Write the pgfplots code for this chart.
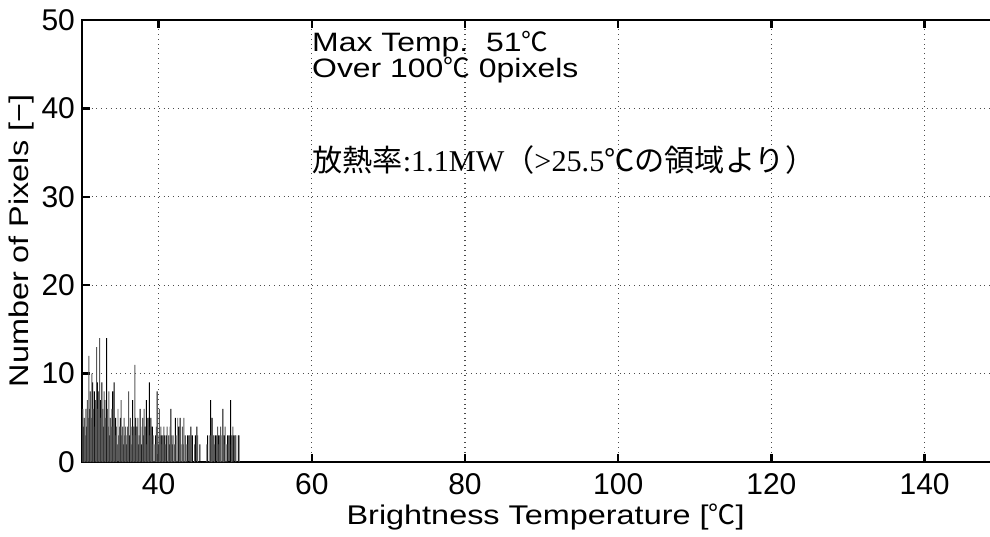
\documentclass[border=0pt]{standalone}
\usepackage{pgfplots}
\pgfplotsset{compat=1.18}
\usepackage{pgfplotstable}
\usepackage{fontspec}
\setmainfont{Liberation Sans}
\newfontfamily\widesans{Liberation Sans}[FakeStretch=1.2]
\newfontfamily\cjk{Noto Sans CJK JP}
\newfontfamily\serif{Liberation Serif}
\newcommand{\degc}{{\cjk ℃}}
\pgfplotstableread[row sep=\\]{
x h \\
30.0 5 \\ 30.1 6 \\ 30.2 4 \\ 30.3 5 \\ 30.4 3 \\ 30.5 6 \\ 30.6 4 \\ 30.7 7 \\ 30.8 5 \\ 30.9 12 \\
31.0 6 \\ 31.1 8 \\ 31.2 5 \\ 31.3 10 \\ 31.4 9 \\ 31.5 6 \\ 31.6 8 \\ 31.7 4 \\ 31.8 7 \\ 31.9 13 \\
32.0 9 \\ 32.1 6 \\ 32.2 8 \\ 32.3 14 \\ 32.4 7 \\ 32.5 5 \\ 32.6 9 \\ 32.7 6 \\ 32.8 4 \\ 32.9 8 \\
33.0 7 \\ 33.1 5 \\ 33.2 14 \\ 33.3 6 \\ 33.4 4 \\ 33.5 8 \\ 33.6 3 \\ 33.7 5 \\ 33.8 4 \\ 33.9 6 \\
34.0 8 \\ 34.1 4 \\ 34.2 9 \\ 34.3 3 \\ 34.4 5 \\ 34.5 4 \\ 34.6 2 \\ 34.7 6 \\ 34.8 3 \\ 34.9 4 \\
35.0 5 \\ 35.1 7 \\ 35.2 3 \\ 35.3 4 \\ 35.4 2 \\ 35.5 5 \\ 35.6 3 \\ 35.7 4 \\ 35.8 2 \\ 35.9 3 \\
36.0 4 \\ 36.1 8 \\ 36.2 3 \\ 36.3 5 \\ 36.4 2 \\ 36.5 4 \\ 36.6 7 \\ 36.7 3 \\ 36.8 4 \\ 36.9 11 \\
37.0 5 \\ 37.1 3 \\ 37.2 4 \\ 37.3 5 \\ 37.4 2 \\ 37.5 3 \\ 37.6 6 \\ 37.7 4 \\ 37.8 2 \\ 37.9 5 \\
38.0 3 \\ 38.1 6 \\ 38.2 4 \\ 38.3 3 \\ 38.4 7 \\ 38.5 2 \\ 38.6 5 \\ 38.7 4 \\ 38.8 9 \\ 38.9 3 \\
39.0 5 \\ 39.1 2 \\ 39.2 4 \\ 39.3 3 \\ 39.4 0 \\ 39.5 2 \\ 39.6 3 \\ 39.7 4 \\ 39.8 8 \\ 39.9 3 \\
40.0 2 \\ 40.1 6 \\ 40.2 3 \\ 40.3 4 \\ 40.4 3 \\ 40.5 2 \\ 40.6 3 \\ 40.7 4 \\ 40.8 3 \\ 40.9 2 \\
41.0 3 \\ 41.1 4 \\ 41.2 0 \\ 41.3 3 \\ 41.4 2 \\ 41.5 4 \\ 41.6 6 \\ 41.7 3 \\ 41.8 2 \\ 41.9 3 \\
42.0 0 \\ 42.1 2 \\ 42.2 5 \\ 42.3 3 \\ 42.4 0 \\ 42.5 5 \\ 42.6 4 \\ 42.7 3 \\ 42.8 5 \\ 42.9 2 \\
43.0 0 \\ 43.1 4 \\ 43.2 2 \\ 43.3 5 \\ 43.4 0 \\ 43.5 3 \\ 43.6 0 \\ 43.7 2 \\ 43.8 3 \\ 43.9 0 \\
44.0 3 \\ 44.1 3 \\ 44.2 4 \\ 44.3 2 \\ 44.4 3 \\ 44.5 0 \\ 44.6 0 \\ 44.7 2 \\ 44.8 3 \\ 44.9 0 \\
45.0 4 \\ 45.1 3 \\ 45.2 0 \\ 45.3 0 \\ 45.4 2 \\ 45.5 0 \\ 45.6 0 \\ 45.7 0 \\ 45.8 0 \\ 45.9 0 \\
46.0 0 \\ 46.1 0 \\ 46.2 0 \\ 46.3 2 \\ 46.4 3 \\ 46.5 0 \\ 46.6 0 \\ 46.7 3 \\ 46.8 7 \\ 46.9 3 \\
47.0 5 \\ 47.1 3 \\ 47.2 3 \\ 47.3 2 \\ 47.4 3 \\ 47.5 0 \\ 47.6 3 \\ 47.7 4 \\ 47.8 3 \\ 47.9 2 \\
48.0 3 \\ 48.1 4 \\ 48.2 0 \\ 48.3 3 \\ 48.4 6 \\ 48.5 2 \\ 48.6 3 \\ 48.7 4 \\ 48.8 0 \\ 48.9 2 \\
49.0 3 \\ 49.1 0 \\ 49.2 3 \\ 49.3 0 \\ 49.4 7 \\ 49.5 2 \\ 49.6 3 \\ 49.7 4 \\ 49.8 3 \\ 49.9 0 \\
50.0 3 \\ 50.1 3 \\ 50.2 2 \\ 50.3 4 \\ 50.4 3 \\ 50.5 3 \\ 50.6 0 \\
}\histdata
\begin{document}
\begin{tikzpicture}
\begin{axis}[
  at={(0,0)}, anchor=south west,
  scale only axis,
  width=459.6pt, height=221pt,
  xmin=30, xmax=150, ymin=0, ymax=50,
  xtick={40,60,...,140},
  ytick={0,10,...,50},
  tick align=inside,
  major tick length=4pt,
  axis line style={line width=1.2pt},
  every tick/.style={line width=1.2pt, black},
  grid=major,
  grid style={dotted, line width=0.6pt, black!70},
  /pgf/number format/assume math mode=true,
  ticklabel style={font=\fontsize{15}{17}\selectfont},
  xticklabel style={yshift=-2pt},
  xlabel={Brightness Temperature [\degc]},
  ylabel={Number of Pixels [−]},
  label style={font=\widesans\fontsize{13.5}{15}\selectfont},
  xlabel style={at={(axis description cs:0.5,-0.124)}, anchor=center, xshift=2pt},
  ylabel style={at={(axis description cs:-0.066,0.5)}, anchor=center},
]
\addplot[ybar, bar width=0.13, bar shift=0pt, fill=black, draw=none,
  x filter/.expression={mod(\coordindex,2)==0 ? x : nan}] table[x=x,y=h]{\histdata};
\addplot[ybar, bar width=0.13, bar shift=0pt, fill=black!65, draw=none,
  x filter/.expression={mod(\coordindex,2)==1 ? x : nan}] table[x=x,y=h]{\histdata};
\node[anchor=north west, inner sep=0pt, align=left, font=\widesans\fontsize{13.3}{13.25}\selectfont] at (axis cs:60.0,48.8) {Max Temp.\ \ 51\degc\\Over 100\degc\ 0pixels};
\node[anchor=west, inner sep=0pt, font=\fontsize{15.1}{16}\selectfont] at (axis cs:60.0,34.2) {{\cjk 放熱率}{\serif :1.1MW}{\cjk （}{\serif >25.5}{\cjk ℃の領域より）}};
\end{axis}
\pgfresetboundingbox
\path[use as bounding box] (-41pt,-37pt) rectangle (454pt,231pt);
\end{tikzpicture}
\end{document}
